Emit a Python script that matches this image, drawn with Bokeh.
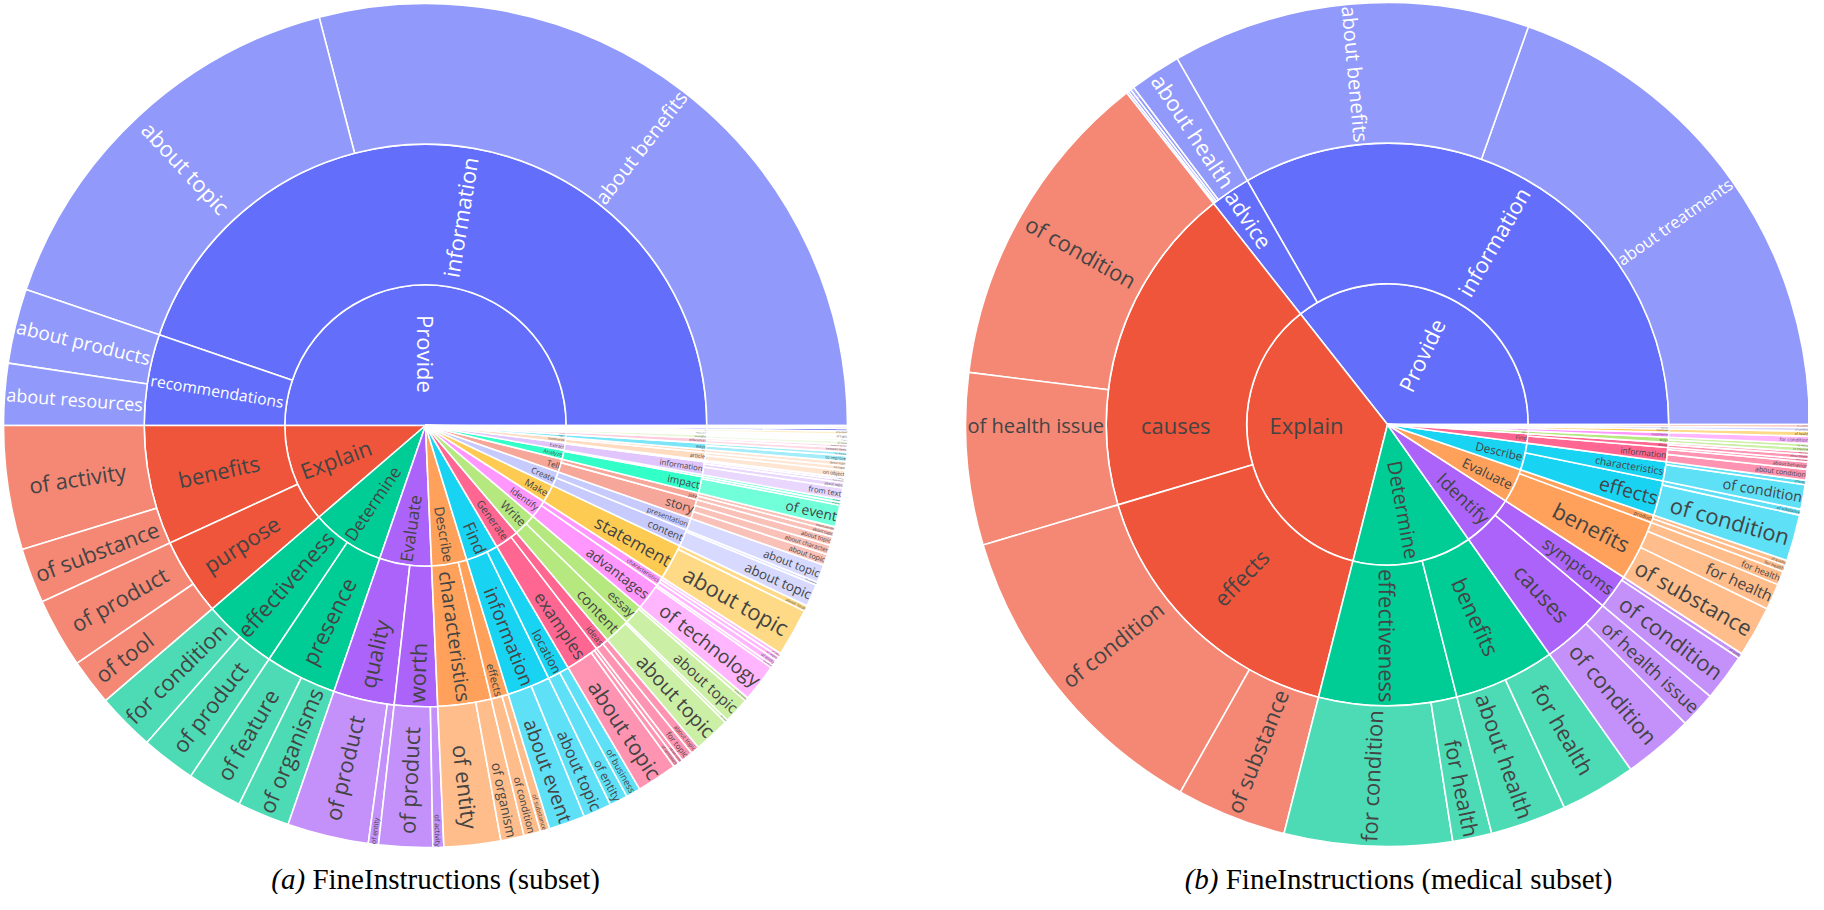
import math, colorsys
from bokeh.plotting import figure
from bokeh.models import ColumnDataSource, Range1d
from bokeh.embed import file_html
from bokeh.resources import INLINE
from bokeh.core.properties import value

# ---------------- data: (a) FineInstructions (subset) ----------------
A_VERB = ["Provide", "Provide", "Provide", "Provide",
          "Explain", "Explain", "Explain", "Explain",
          "Determine", "Determine", "Determine", "Determine",
          "Evaluate", "Evaluate", "Evaluate", "Evaluate",
          "Describe", "Describe", "Describe", "Describe",
          "Find", "Find", "Find", "Find",
          "Generate", "Generate", "Generate", "Generate", "Generate",
          "Write", "Write", "Write", "Write",
          "Identify", "Identify", "Identify", "Identify", "Identify",
          "Make", "Make",
          "Create", "Create", "Create",
          "Tell", "Tell", "Tell", "Tell", "Tell",
          "Analyze", "Analyze", "Analyze",
          "Extract", "Extract", "Extract", "Extract",
          "Summarize", "Summarize", "Summarize",
          "Suggest", "Suggest", "Compare", "Compare", "List", "List",
          "Discuss", "Calculate", "Translate", "Recommend", "Classify"]
A_TASK = ["information", "information", "recommendations", "recommendations",
          "benefits", "benefits", "purpose", "purpose",
          "effectiveness", "effectiveness", "presence", "presence",
          "quality", "quality", "worth", "worth",
          "characteristics", "characteristics", "effects", "effects",
          "information", "information", "location", "location",
          "examples", "examples", "examples", "ideas", "ideas",
          "content", "content", "essay", "essay",
          "advantages", "advantages", "characteristics", "characteristics", "characteristics",
          "statement", "statement",
          "content", "content", "presentation",
          "story", "story", "story", "joke", "joke",
          "impact", "impact", "effects",
          "information", "information", "information", "data",
          "article", "article", "text",
          "ways", "ways", "differences", "differences", "examples", "examples",
          "importance", "cost", "text", "products", "text"]
A_OBJECT = ["about benefits", "about topic", "about products", "about resources",
            "of activity", "of substance", "of product", "of tool",
            "for condition", "of product", "of feature", "of organisms",
            "of product", "of entity", "of product", "of activity",
            "of entity", "of organism", "of condition", "of substance",
            "about event", "about topic", "of entity", "of business",
            "about topic", "of sentiment", "about event", "for topic", "about topic",
            "about topic", "for topic", "about topic", "about family",
            "of technology", "of product", "of entity", "of object", "of data",
            "about topic", "about issue",
            "about topic", "for audience", "about topic",
            "about topic", "about character", "about topic", "about topic", "about person",
            "of event", "of policy", "of event",
            "from text", "about topic", "from article", "from text",
            "on object", "on topic", "about topic",
            "to improve", "to reduce", "between items", "between options", "of items", "of topics",
            "of topic", "of product", "into language", "for need", "by topic"]
A_SHARE = [104.6, 56.6, 10.3, 8.5,
           17.1, 7.6, 9.6, 6.4,
           8.0, 7.5, 7.6, 7.2,
           11.2, 1.4, 7.4, 1.5,
           7.8, 3.2, 2.3, 1.3,
           5.0, 3.9, 2.5, 2.0,
           5.6, 0.8, 0.6, 1.6, 1.2,
           5.0, 0.4, 3.6, 0.5,
           5.2, 0.4, 0.8, 0.6, 0.5,
           6.6, 0.8,
           3.1, 0.4, 2.5,
           1.5, 1.3, 1.2, 0.8, 0.6,
           3.0, 0.4, 0.4,
           1.6, 0.7, 0.4, 0.3,
           1.0, 0.6, 0.6,
           0.8, 0.5, 0.6, 0.4, 0.5, 0.3,
           0.6, 0.45, 0.35, 0.25, 0.15]

# ---------------- data: (b) FineInstructions (medical subset) ----------------
B_VERB = ["Provide"] * 6 + ["Explain"] * 4 + ["Determine"] * 4 + ["Identify"] * 4 + \
         ["Evaluate"] * 5 + ["Describe"] * 4 + ["Find"] * 5 + \
         ["Suggest", "Suggest", "Recommend", "Discuss", "List", "Compare"]
B_TASK = ["information", "information", "advice", "advice", "advice", "advice",
          "causes", "causes", "effects", "effects",
          "effectiveness", "effectiveness", "benefits", "benefits",
          "causes", "causes", "symptoms", "symptoms",
          "benefits", "benefits", "benefits", "product", "product",
          "effects", "effects", "characteristics", "characteristics",
          "information", "information", "information", "advice", "advice",
          "ways", "ways", "treatments", "importance", "symptoms", "treatments"]
B_OBJECT = ["about treatments", "about benefits", "about health", "about diet", "about exercise", "about care",
            "of condition", "of health issue", "of condition", "of substance",
            "for condition", "for health", "about health", "for health",
            "of condition", "of health issue", "of condition", "of body",
            "of substance", "for health", "for health", "for health", "of quality",
            "of condition", "of substance", "of condition", "of body",
            "about condition", "about behavior", "about health", "about health", "about diet",
            "to improve", "to reduce", "for condition", "of health", "of condition", "for condition"]
B_SHARE = [70.5, 49.4, 7.1, 0.5, 0.4, 0.3,
           44.7, 23.7, 44.0, 15.2,
           23.1, 5.4, 10.5, 10.4,
           9.7, 5.0, 6.5, 0.7,
           7.0, 3.6, 1.9, 0.9, 0.7,
           6.4, 0.8, 3.4, 0.6,
           1.5, 1.0, 0.4, 0.6, 0.4,
           0.6, 0.5, 1.0, 0.7, 0.5, 0.4]

CAPTION_TAGS = ["(a)", "(b)"]
CAPTION_TEXTS = ["FineInstructions (subset)", "FineInstructions (medical subset)"]

# ---------------- style / geometry ----------------
COLORWAY = ["#636efa", "#EF553B", "#00cc96", "#ab63fa", "#FFA15A",
            "#19d3f3", "#FF6692", "#B6E880", "#FF97FF", "#FECB52"]
PW, PH = 1808, 894
CENTERS = [(433.0, 433.0), (1395.0, 432.0)]      # screen px
RADII = [0.0, 140.7, 281.3, 422.0]
BASE_FONT = 22.0
TEXTPAD = 5.5
LINE_H = 1.362


def to_data(X, Y):
    return X - 8.0, (PH + 8.0) - Y


def hex_rgb(h):
    h = h.lstrip("#")
    return tuple(int(h[i:i + 2], 16) / 255.0 for i in (0, 2, 4))


def rgb_hex(c):
    return "#%02x%02x%02x" % tuple(int(round(max(0, min(1, v)) * 255)) for v in c)


def shift_l(h, amt):
    r, g, b = hex_rgb(h)
    hh, l, s = colorsys.rgb_to_hls(r, g, b)
    l = max(0.0, min(1.0, l + amt))
    return rgb_hex(colorsys.hls_to_rgb(hh, l, s))


EXT_COLORS = COLORWAY + [shift_l(c, 0.2) for c in COLORWAY] + [shift_l(c, -0.2) for c in COLORWAY]


def is_light(h):
    r, g, b = [v * 255 for v in hex_rgb(h)]
    return (r * 299 + g * 587 + b * 114) / 1000.0 >= 128


OS_W = {" ": 260, "a": 556, "b": 613, "c": 476, "d": 613, "e": 561, "f": 339, "g": 548, "h": 614,
        "i": 253, "j": 253, "k": 525, "l": 253, "m": 930, "n": 614, "o": 604, "p": 613, "q": 613,
        "r": 408, "s": 477, "t": 353, "u": 614, "v": 501, "w": 778, "x": 524, "y": 502, "z": 477,
        "A": 633, "C": 631, "D": 729, "E": 556, "F": 516, "G": 728, "I": 279, "L": 520, "M": 903,
        "P": 602, "R": 631, "S": 549, "T": 559, "W": 951}
TM_W = {"(": 333, ")": 333, " ": 250, "a": 444, "b": 500, "c": 444, "d": 500, "e": 444, "i": 278,
        "l": 278, "m": 778, "n": 500, "o": 500, "r": 333, "s": 389, "t": 278, "u": 500, "F": 556, "I": 333}


def text_w(s, table=OS_W, default=560):
    return sum(table.get(ch, default) for ch in s) / 1000.0


def max_half(a, half, r, ring):
    t = math.tan(half)
    q = a + (1.0 / (2.0 * t) if t > 1e-12 else 1e12)
    return r * min(1.0 / (math.sqrt(q * q + 0.5) + q), ring / (math.sqrt(a * a + ring / 2.0) + a))


def upright(mid):
    m = (mid + 180.0) % 360.0 - 180.0
    if -90.0 < m < 90.0:
        return m
    m = m - 180.0
    return (m + 180.0) % 360.0 - 180.0


def layout_label(text, r0, r1, a0, a1):
    w = text_w(text) * BASE_FONT
    h = LINE_H * BASE_FONT
    r = max(0.0, r1 - 2 * TEXTPAD)
    ring = 1.0 - r0 / r1
    a = w / h
    cands = []
    for cross in (180.0, 0.0, 360.0):
        if a0 < cross < a1:
            ce = math.radians(min(cross - a0, a1 - cross))
            s = max_half(a, ce, r, ring)
            cands.append((2 * s / h, s, cross, 0.0))
    mid = 0.5 * (a0 + a1)
    s = max_half(a, math.radians(0.5 * (a1 - a0)), r, ring)
    cands.append((2 * s / h, s, mid, upright(mid)))
    best = None
    for c in cands:
        if best is None or c[0] > best[0]:
            best = c
        if best[0] >= 1:
            break
    scale, s, ang, rot = best
    rc = r1 * (1 - a * s / r) if r > 0 else 0.0
    return BASE_FONT * min(1.0, scale), rc, ang, rot


def build(verbs, tasks, objs, shares, center):
    k = 360.0 / sum(shares)
    cx, cy = to_data(*center)
    nodes = []            # (level, label, a0, a1, colour, is_leaf)
    verb_order, verb_span, task_order, task_span = [], {}, [], {}
    a = 0.0
    leaf_nodes = []
    for v, t, o, val in zip(verbs, tasks, objs, shares):
        a1 = a + val * k
        if v not in verb_span:
            verb_order.append(v)
            verb_span[v] = [a, a1]
        verb_span[v][1] = a1
        key = (v, t)
        if key not in task_span:
            task_order.append(key)
            task_span[key] = [a, a1]
        task_span[key][1] = a1
        leaf_nodes.append((v, o, a, a1))
        a = a1
    vcol = {v: EXT_COLORS[i % len(EXT_COLORS)] for i, v in enumerate(verb_order)}
    for v in verb_order:
        nodes.append((0, v, verb_span[v][0], verb_span[v][1], vcol[v], False))
    for key in task_order:
        nodes.append((1, key[1], task_span[key][0], task_span[key][1], vcol[key[0]], False))
    for v, o, a0, a1 in leaf_nodes:
        nodes.append((2, o, a0, a1, vcol[v], True))

    wd = dict(x=[], y=[], r0=[], r1=[], s=[], e=[], c=[], al=[])
    td = dict(x=[], y=[], t=[], ang=[], fs=[], tc=[])
    for lev, lab, a0, a1, col, leaf in nodes:
        r0, r1 = RADII[lev], RADII[lev + 1]
        wd["x"].append(cx); wd["y"].append(cy)
        wd["r0"].append(r0); wd["r1"].append(r1)
        wd["s"].append(math.radians(a0)); wd["e"].append(math.radians(a1))
        wd["c"].append(col); wd["al"].append(0.7 if leaf else 1.0)
        fs, rc, ang, rot = layout_label(lab, r0, r1, a0, a1)
        if fs < 1.5:
            continue
        td["x"].append(cx + rc * math.cos(math.radians(ang)))
        td["y"].append(cy + rc * math.sin(math.radians(ang)))
        td["t"].append(lab)
        td["ang"].append(math.radians(rot))
        td["fs"].append("%.2fpx" % fs)
        td["tc"].append("#444444" if is_light(col) else "#ffffff")
    return wd, td


p = figure(width=PW, height=PH, output_backend="svg", toolbar_location=None,
           x_range=Range1d(0, PW), y_range=Range1d(0, PH), min_border=0)
p.axis.visible = False
p.grid.visible = False
p.outline_line_color = None
p.background_fill_color = "white"
p.border_fill_color = "white"

charts = [(A_VERB, A_TASK, A_OBJECT, A_SHARE, CENTERS[0]),
          (B_VERB, B_TASK, B_OBJECT, B_SHARE, CENTERS[1])]
texts = []
for vb, tk, ob, sh, cen in charts:
    wd, td = build(vb, tk, ob, sh, cen)
    p.annular_wedge(x="x", y="y", inner_radius="r0", outer_radius="r1", start_angle="s", end_angle="e",
                    fill_color="c", fill_alpha="al", line_color="white", line_width=1.6,
                    source=ColumnDataSource(wd))
    texts.append(td)
for td in texts:
    p.text(x="x", y="y", text="t", angle="ang", text_font_size="fs", text_color="tc",
           text_align="center", text_baseline="middle", text_font=value("Open Sans"),
           source=ColumnDataSource(td))

# captions
CAP_FONT = 29.0
CAP_Y = 886.0
for (cxs, _), tag, rest in zip(CENTERS, CAPTION_TAGS, CAPTION_TEXTS):
    wt = text_w(tag, TM_W, 500) * CAP_FONT
    gap = 0.25 * CAP_FONT
    wr = text_w(rest, TM_W, 500) * CAP_FONT
    left = cxs + 11 - (wt + gap + wr) / 2.0
    xs, ys = to_data(left + wt, CAP_Y)
    p.text(x=[xs], y=[ys], text=[tag], text_align="right", text_baseline="middle",
           text_font=value("Liberation Serif"), text_font_style="italic",
           text_font_size="%dpx" % CAP_FONT, text_color="#000000")
    p.text(x=[xs + gap], y=[ys], text=[rest], text_align="left", text_baseline="middle",
           text_font=value("Liberation Serif"), text_font_size="%dpx" % CAP_FONT, text_color="#000000")

open("out.html", "w").write(file_html(p, INLINE))
